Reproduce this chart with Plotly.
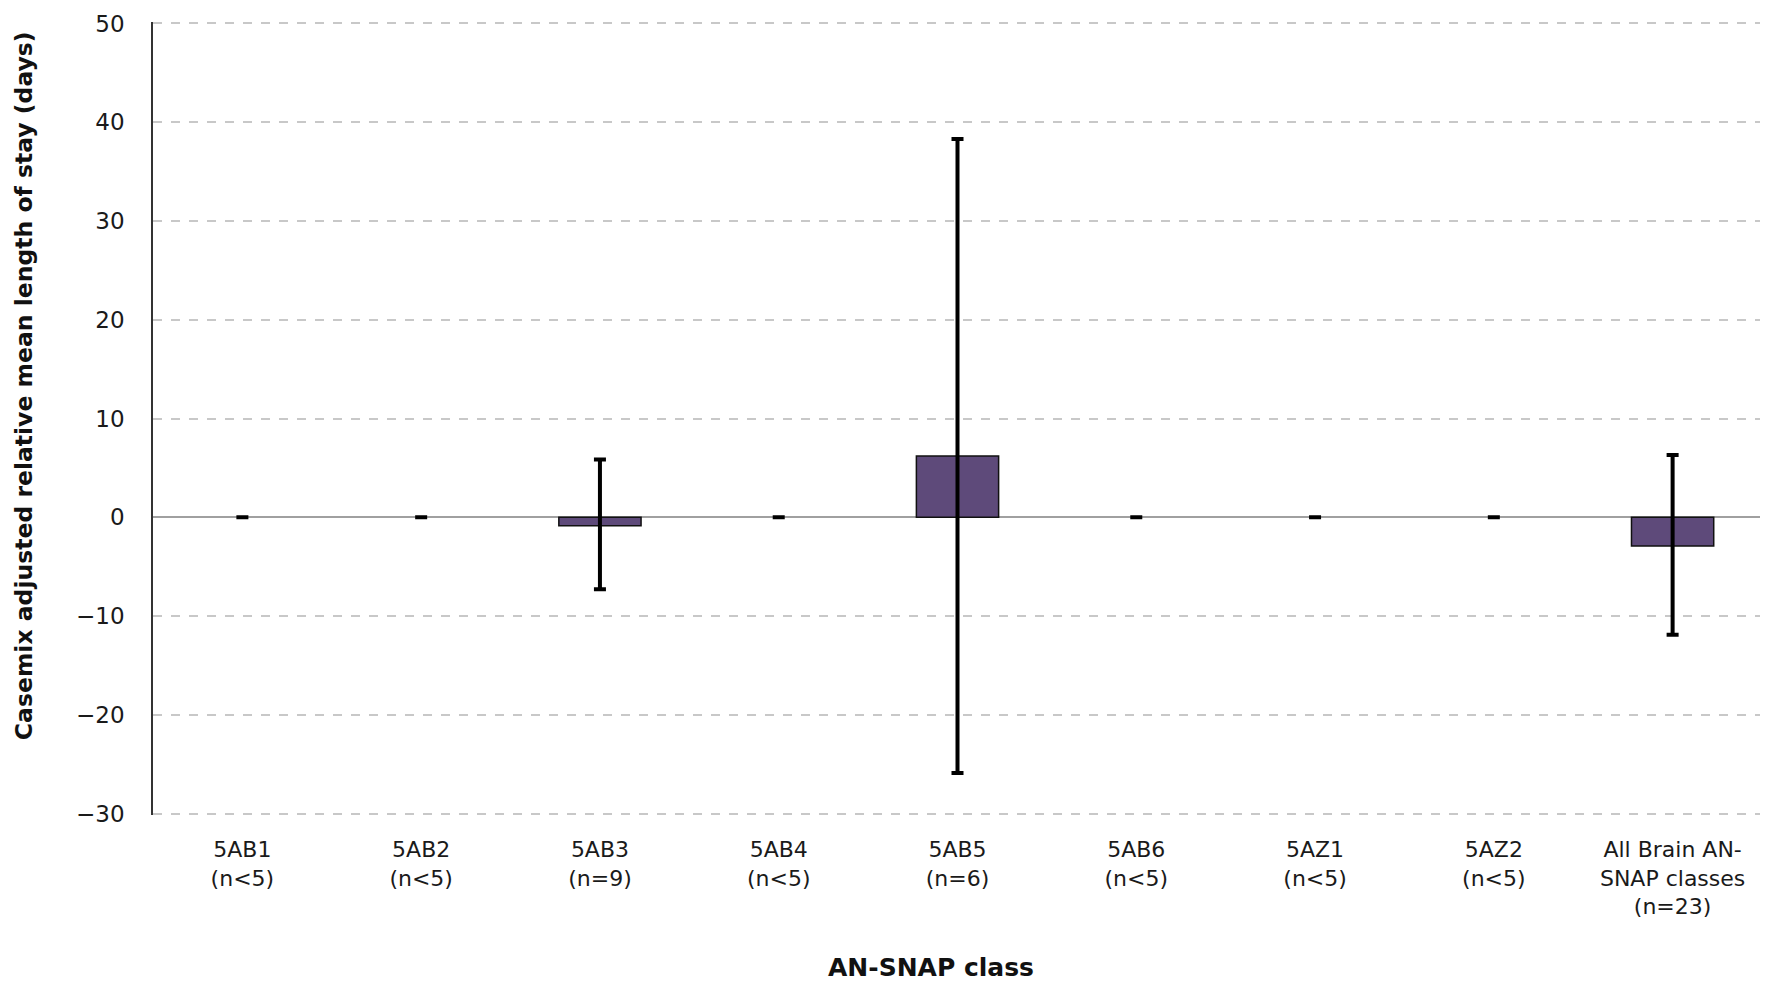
import plotly.graph_objects as go

categories = ["5AB1<br>(n&lt;5)", "5AB2<br>(n&lt;5)", "5AB3<br>(n=9)", "5AB4<br>(n&lt;5)",
              "5AB5<br>(n=6)", "5AB6<br>(n&lt;5)", "5AZ1<br>(n&lt;5)", "5AZ2<br>(n&lt;5)",
              "All Brain AN-<br>SNAP classes<br>(n=23)"]
values = [0, 0, -0.85, 0, 6.2, 0, 0, 0, -2.9]
err_plus = [0, 0, 6.7, 0, 32.1, 0, 0, 0, 9.2]
err_minus = [0, 0, 6.45, 0, 32.1, 0, 0, 0, 9.0]
y_ticks = [-30, -20, -10, 0, 10, 20, 30, 40, 50]

FONT = "DejaVu Sans"

outline_widths = [0 if v == 0 else 1.5 for v in values]

fig = go.Figure()
fig.add_trace(go.Bar(
    x=categories, y=values, width=0.46,
    marker=dict(color="#5E4A7A", line=dict(color="#111111", width=outline_widths)),
    error_y=dict(type="data", symmetric=False, array=err_plus, arrayminus=err_minus,
                 color="#000000", thickness=4, width=6),
))

fig.update_layout(
    width=1768, height=987,
    margin=dict(l=145, r=14, t=14, b=180),
    plot_bgcolor="white", paper_bgcolor="white",
    showlegend=False,
    font=dict(family=FONT, size=22, color="#1a1a1a"),
)
fig.update_xaxes(
    showline=False, showgrid=False, ticks="", tickfont=dict(size=22, family=FONT),
    ticklabelstandoff=19, automargin=False,
)
fig.update_yaxes(
    range=[-30.15, 50.15], tickvals=y_ticks, showgrid=True, gridcolor="#C8C8C8",
    griddash="dash", gridwidth=1.5, zeroline=True, zerolinecolor="#A0A0A0",
    zerolinewidth=2, showline=True, linecolor="#333333", linewidth=1.5,
    ticks="", ticklabelstandoff=22, tickfont=dict(size=23, family=FONT),
    automargin=False,
)
fig.add_annotation(
    text="<b>Casemix adjusted relative mean length of stay (days)</b>",
    xref="paper", yref="paper", x=-0.0802, y=0.542, textangle=-90,
    showarrow=False, xanchor="center", yanchor="middle",
    font=dict(size=23.5, family=FONT, color="#111111"),
)
fig.add_annotation(
    text="<b>AN-SNAP class</b>",
    xref="paper", yref="paper", x=0.4835, y=-0.192,
    showarrow=False, xanchor="center", yanchor="middle",
    font=dict(size=25, family=FONT, color="#111111"),
)
fig.write_html("out.html")
